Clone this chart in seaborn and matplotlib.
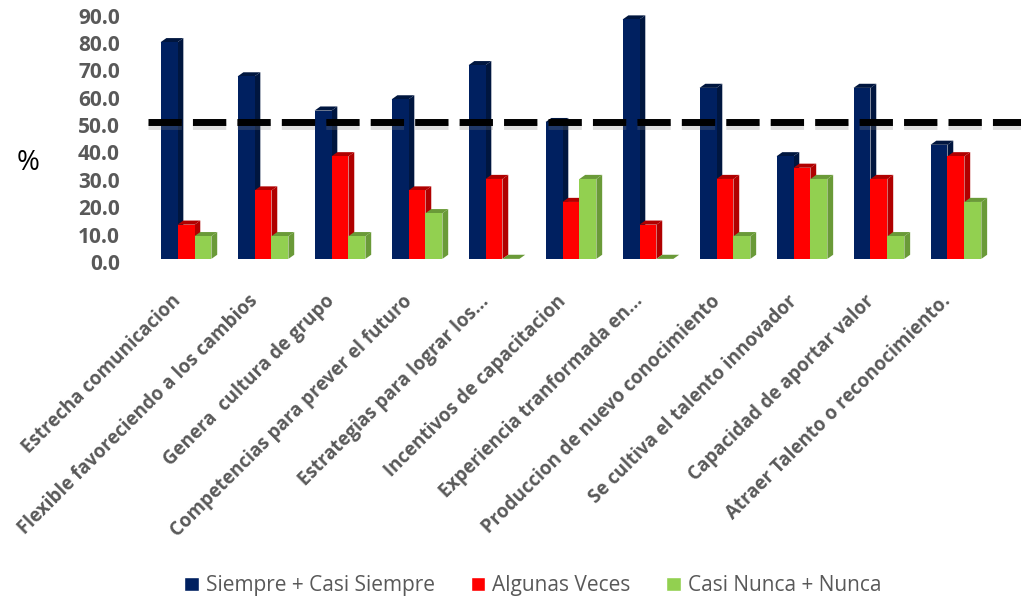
import matplotlib
matplotlib.use('Agg')
import matplotlib.pyplot as plt
import matplotlib.patheffects as pe
import matplotlib.transforms as mtransforms
from matplotlib.patches import Polygon
import pandas as pd
import seaborn as sns

categorias = ['Estrecha comunicacion', 'Flexible favoreciendo a los cambios',
              'Genera  cultura de grupo', 'Competencias para prever el futuro',
              'Estrategias para lograr los...', 'Incentivos de capacitacion',
              'Experiencia tranformada en...', 'Produccion de nuevo conocimiento',
              'Se cultiva el talento innovador', 'Capacidad de aportar valor',
              'Atraer Talento o reconocimiento.']
series = ['Siempre + Casi Siempre', 'Algunas Veces', 'Casi Nunca + Nunca']
siempre = [79.2, 66.7, 54.2, 58.3, 70.8, 50.0, 87.5, 62.5, 37.5, 62.5, 41.7]
algunas = [12.5, 25.0, 37.5, 25.0, 29.2, 20.8, 12.5, 29.2, 33.3, 29.2, 37.5]
nunca = [8.3, 8.3, 8.3, 16.7, 0.0, 29.2, 0.0, 8.3, 29.2, 8.3, 20.8]
umbral = 50.0

colores = ['#002060', '#FF0000', '#92D050']
laterales = ['#00163F', '#B00000', '#6A9A38']
gris = '#595959'

df = pd.DataFrame({
    'categoria': categorias * 3,
    'serie': [s for s in series for _ in categorias],
    'valor': siempre + algunas + nunca,
})

sns.set_style('white')
plt.rcParams['font.family'] = ['Open Sans', 'DejaVu Sans']

fig = plt.figure(figsize=(10.21, 6.02), dpi=100)
ax = fig.add_axes([0.1445, 0.57, 0.8295, 0.409])
sns.barplot(data=df, x='categoria', y='valor', hue='serie', palette=colores,
            width=0.66, gap=0, saturation=1, ax=ax, legend=True)

# fake 3D depth: side face and top cap for every bar
dx, dy = 0.075, 1.5
for i, (cont, lado) in enumerate(zip(ax.containers, laterales)):
    for bar in cont:
        bar.set_zorder(2 + i * 0.2)
        bar.set_edgecolor('none')
        x0 = bar.get_x()
        x1 = x0 + bar.get_width()
        h = bar.get_height()
        side = Polygon([(x1, 0), (x1 + dx, dy), (x1 + dx, h + dy), (x1, h)],
                       closed=True, fc=lado, ec='none', zorder=1.9 + i * 0.2)
        top = Polygon([(x0, h), (x0 + dx, h + dy), (x1 + dx, h + dy), (x1, h)],
                      closed=True, fc=lado, ec='none', zorder=1.9 + i * 0.2)
        ax.add_patch(side)
        ax.add_patch(top)

ax.plot([-0.5, 10.85], [umbral, umbral], color='black', lw=5,
        dashes=(4.8, 1.6), zorder=6, clip_on=False,
        path_effects=[pe.SimpleLineShadow(offset=(0, -2.5), shadow_color='gray', alpha=0.25),
                      pe.Normal()])

ax.set_xlim(-0.5, 10.5)
ax.set_ylim(0, 90)
ax.set_yticks(range(0, 91, 10))
ax.set_yticklabels(['%.1f' % v for v in range(0, 91, 10)])
ax.set_xlabel('')
ax.set_ylabel('')
sns.despine(ax=ax, left=True, bottom=True)
ax.tick_params(axis='y', length=0, pad=20, labelsize=15, labelcolor=gris)
ax.tick_params(axis='x', length=0, pad=14, labelsize=13.5, labelcolor=gris)
for t in ax.get_yticklabels():
    t.set_fontweight('bold')
    t.set_transform(t.get_transform() + mtransforms.ScaledTranslation(0, -0.03, fig.dpi_scale_trans))
for t in ax.get_xticklabels():
    t.set_fontweight('bold')
    t.set_rotation(45)
    t.set_ha('right')
    t.set_va('center')
    t.set_rotation_mode('anchor')
    t.set_transform(t.get_transform() + mtransforms.ScaledTranslation(-0.08, -0.2, fig.dpi_scale_trans))

fig.text(0.027, 0.729, '%', fontsize=20, color='black', ha='center', va='center')

handles, labels = ax.get_legend_handles_labels()
ax.get_legend().remove()
fig.legend(handles, labels, loc='lower center', bbox_to_anchor=(0.522, -0.022),
           ncol=3, frameon=False, fontsize=15, labelcolor=gris,
           handlelength=0.7, handleheight=0.7, handletextpad=0.35,
           columnspacing=1.7)

fig.savefig('out.png', dpi=100)
